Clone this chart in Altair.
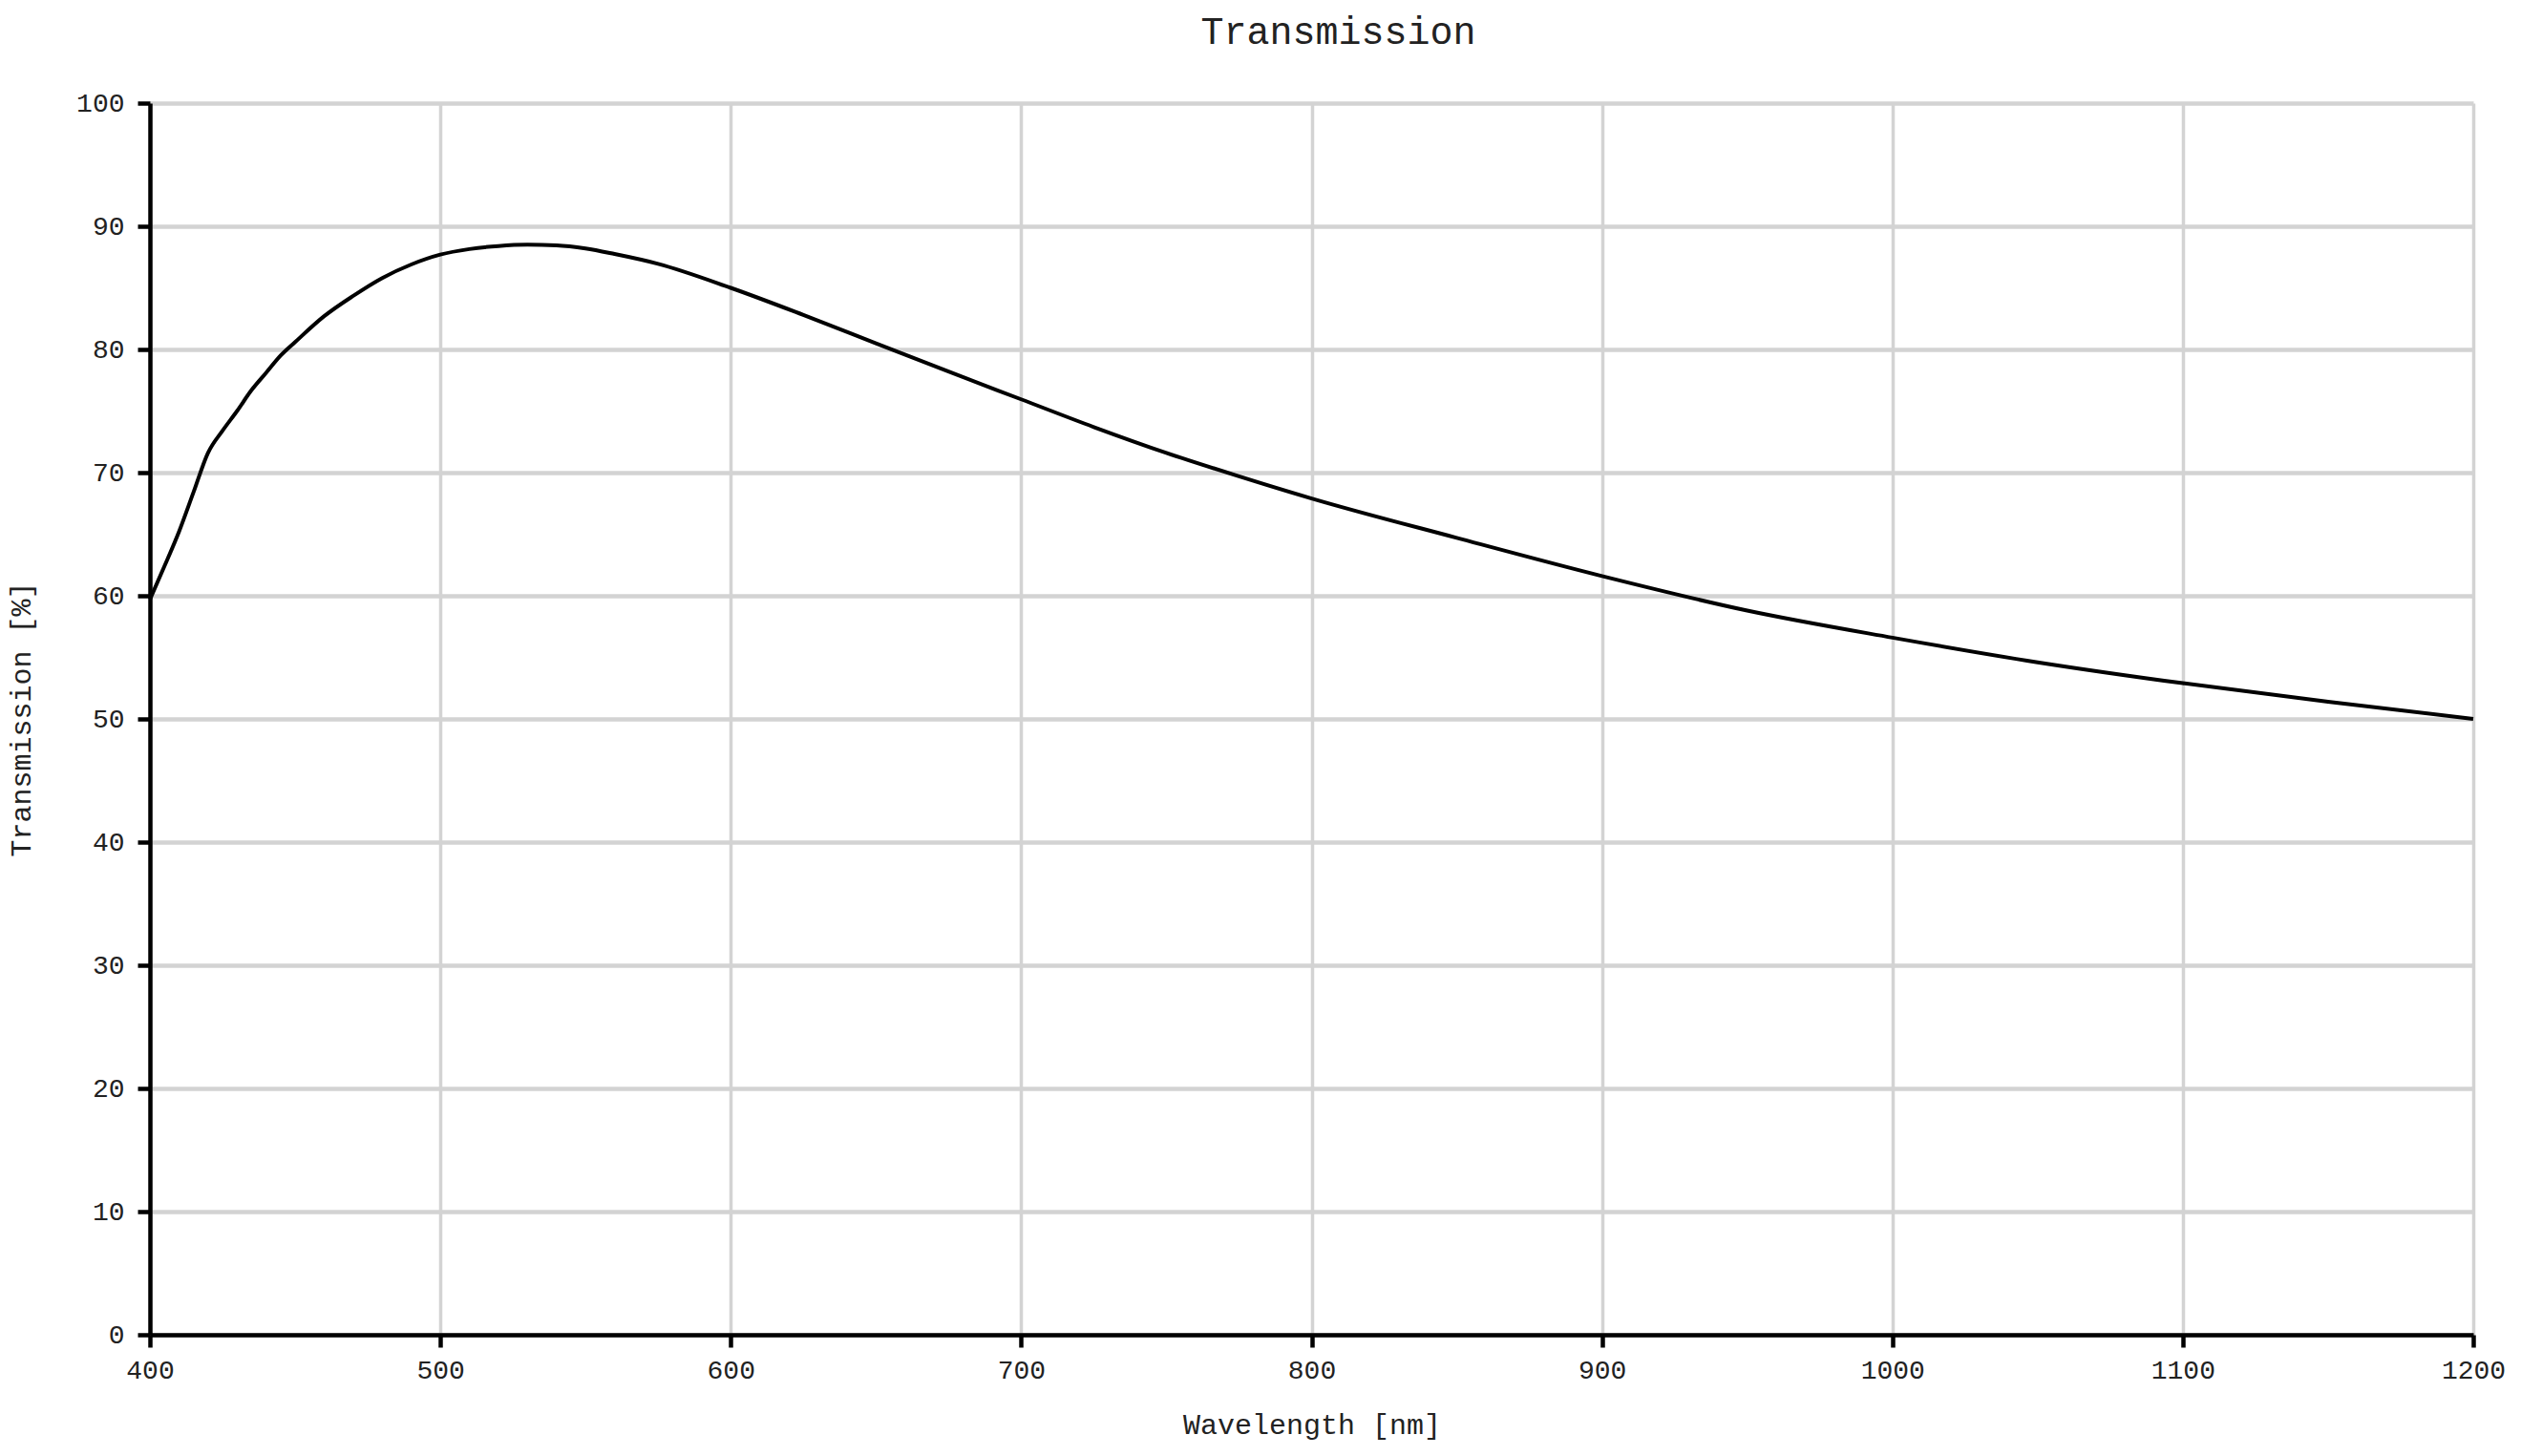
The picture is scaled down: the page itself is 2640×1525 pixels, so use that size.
import altair as alt
import pandas as pd

wavelength = [400, 405, 410, 415, 420, 425, 430, 435, 440, 445, 450, 460, 470, 480,
              490, 500, 510, 520, 530, 540, 550, 560, 575, 600, 625, 650, 675, 700,
              725, 750, 775, 800, 850, 900, 950, 1000, 1050, 1100, 1150, 1200]
transmission = [59.7, 62.4, 65.2, 68.4, 71.6, 73.4, 75.0, 76.7, 78.1, 79.5, 80.6, 82.7,
                84.35, 85.8, 86.9, 87.7, 88.15, 88.4, 88.5, 88.45, 88.2, 87.75, 86.95, 85.0,
                82.8, 80.5, 78.2, 75.95, 73.7, 71.6, 69.7, 67.9, 64.7, 61.6, 58.8, 56.6,
                54.6, 52.9, 51.4, 50.0]
x_ticks = [400, 500, 600, 700, 800, 900, 1000, 1100, 1200]
y_ticks = [0, 10, 20, 30, 40, 50, 60, 70, 80, 90, 100]

df = pd.DataFrame({"wl": wavelength, "t": transmission})

FONT = "Liberation Mono"

chart = alt.Chart(df).mark_line(
    color="black", strokeWidth=4, interpolate="monotone"
).encode(
    x=alt.X("wl:Q", scale=alt.Scale(domain=[400, 1200], nice=False, zero=False),
            axis=alt.Axis(values=x_ticks, title="Wavelength [nm]", format="d",
                          titleY=103, titleBaseline="alphabetic", labelFlush=False,
                          gridWidth=3.5, labelPadding=10)),
    y=alt.Y("t:Q", scale=alt.Scale(domain=[0, 100], nice=False),
            axis=alt.Axis(values=y_ticks, title="Transmission [%]",
                          titleX=-126, titleBaseline="alphabetic", labelFlush=False,
                          gridWidth=4.5, labelPadding=14)),
).properties(
    width=2433, height=1290,
    title=alt.TitleParams("Transmission", font=FONT, fontSize=40, fontWeight="normal",
                          color="#222", anchor="middle", offset=40, dx=28),
    autosize=alt.AutoSizeParams(type="none"),
    padding={"left": 149, "top": 100, "right": 40, "bottom": 117},
).configure_view(
    stroke=None
).configure_axis(
    labelFont=FONT, labelFontSize=28, labelColor="#222",
    titleFont=FONT, titleFontSize=30, titleFontWeight="normal", titleColor="#222",
    domainColor="black", domainWidth=4.5,
    tickColor="black", tickWidth=4.5, tickSize=13,
    gridColor="#d3d3d3",
)

chart.save("out.html", embed_options={"renderer": "svg", "actions": False})
